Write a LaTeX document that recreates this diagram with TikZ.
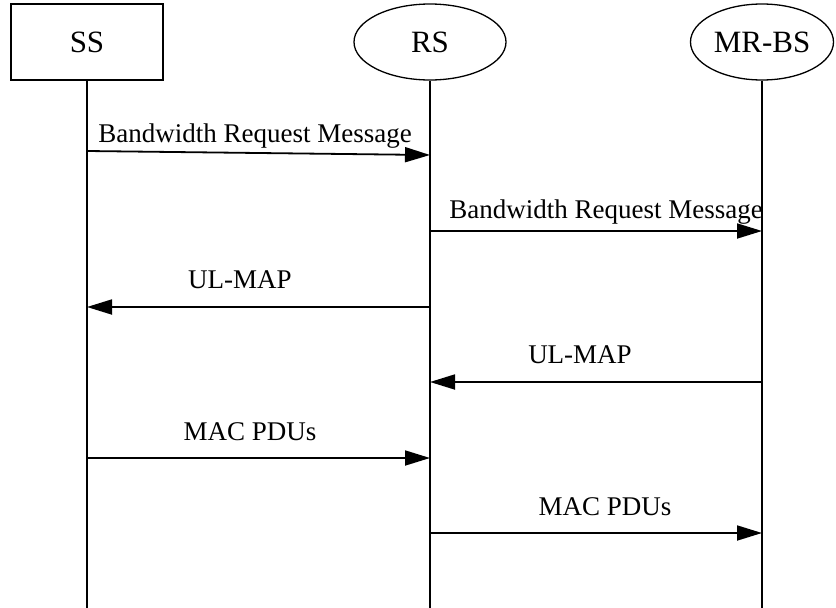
\documentclass[tikz,border=0pt]{standalone}
\usepackage{fontspec}
\setmainfont{Liberation Serif}
\usetikzlibrary{shapes.geometric,arrows.meta}

\begin{document}
\begin{tikzpicture}[x=1pt,y=-1pt,
    msg/.style={-{Triangle[length=25pt,width=15pt]},line width=1.8pt},
    lifeline/.style={line width=1.3pt},
    lbl/.style={font=\fontsize{27}{30}\selectfont,anchor=base,inner sep=0pt},
    head/.style={draw,line width=1.3pt,font=\fontsize{31}{34}\selectfont,minimum height=76pt,inner sep=0pt}]
  \useasboundingbox (0,0) rectangle (836,608);

  % Instanzen
  \node[head,rectangle,minimum width=152pt] (ss) at (87,42) {SS};
  \node[head,ellipse,minimum width=152pt] (rs) at (430,42) {RS};
  \node[head,ellipse,minimum width=143pt] (mrbs) at (762,42) {MR-BS};

  % Lebenslinien
  \coordinate (ssend) at (87,608);
  \coordinate (rsend) at (430,608);
  \coordinate (mrbsend) at (762,608);
  \draw[lifeline] (ss.south) -- (ssend);
  \draw[lifeline] (rs.south) -- (rsend);
  \draw[lifeline] (mrbs.south) -- (mrbsend);

  % Bandwidth Request
  \coordinate (bwa) at (87,151);
  \coordinate (bwb) at (430,155);
  \draw[msg] (bwa) -- (bwb);
  \node[lbl] (bwlbl) at (255,142) {Bandwidth Request Message};

  \coordinate (bwc) at (430,231);
  \coordinate (bwd) at (762,231);
  \draw[msg] (bwc) -- (bwd);
  \node[lbl] (bwlbltwo) at (606,218) {Bandwidth Request Message};

  % UL-MAP
  \coordinate (ula) at (430,307);
  \coordinate (ulb) at (87,307);
  \draw[msg] (ula) -- (ulb);
  \node[lbl] (ullbl) at (240,288) {UL-MAP};

  \coordinate (ulc) at (762,382);
  \coordinate (uld) at (430,382);
  \draw[msg] (ulc) -- (uld);
  \node[lbl] (ullbltwo) at (580,363) {UL-MAP};

  % MAC PDUs
  \coordinate (pdua) at (87,458);
  \coordinate (pdub) at (430,458);
  \draw[msg] (pdua) -- (pdub);
  \node[lbl] (pdulbl) at (250,440) {MAC PDUs};

  \coordinate (pduc) at (430,533);
  \coordinate (pdud) at (762,533);
  \draw[msg] (pduc) -- (pdud);
  \node[lbl] (pdulbltwo) at (605,515) {MAC PDUs};

\end{tikzpicture}
\end{document}
